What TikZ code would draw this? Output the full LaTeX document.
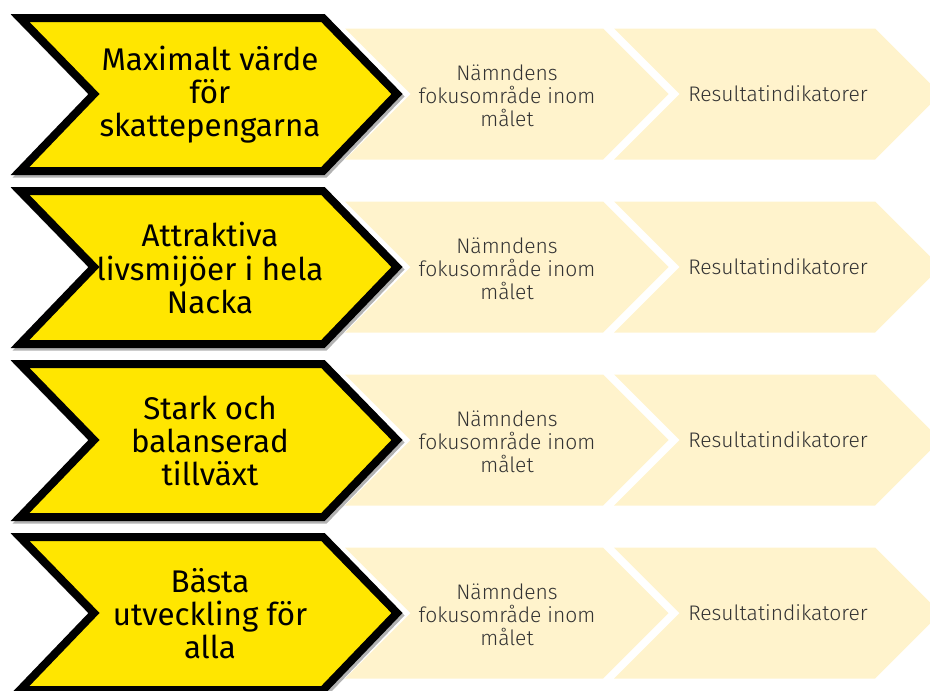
\documentclass[tikz,border=0pt]{standalone}
\usepackage{fontspec}
\setmainfont{Fira Sans}
\newfontfamily\stagefont{Fira Sans Light}
\definecolor{eyyellow}{HTML}{FFE600}
\definecolor{lightfill}{HTML}{FFF3CC}
\definecolor{softtext}{HTML}{333333}
\tikzset{
  goalshape/.style={fill=eyyellow, draw=black, line width=6pt, line join=miter},
  goalshadow/.style={draw=black!30, line width=6pt, line join=miter},
  stageshape/.style={fill=lightfill, draw=none},
  goaltext/.style={align=center, text=black, font=\fontsize{23.5pt}{24.8pt}\selectfont, inner sep=0pt},
  stagetext/.style={align=center, text=softtext, font=\stagefont\fontsize{15.8pt}{17.3pt}\selectfont, inner sep=0pt}
}
\begin{document}
\begin{tikzpicture}[x=0.75pt,y=-0.75pt]
\useasboundingbox (0,0) rectangle (930,690);
\clip (0,0) rectangle (930,690);
\foreach \i/\goal in {0/{Maximalt värde\\för\\skattepengarna},
                      1/{Attraktiva\\livsmijöer i hela\\Nacka},
                      2/{Stark och\\balanserad\\tillväxt},
                      3/{Bästa\\utveckling för\\alla}}{
  \begin{scope}[shift={(0,173*\i)}]
    % light stage chevrons
    \path[stageshape] (345,28.5) -- (603,28.5) -- (668.5,94) -- (603,159.5) -- (345,159.5) -- (410.5,94) -- cycle;
    \path[stageshape] (614,28.5) -- (875,28.5) -- (940.5,94) -- (875,159.5) -- (614,159.5) -- (679.5,94) -- cycle;
    \node[stagetext] (f\i) at (507,96) {Nämndens\\fokusområde inom\\målet};
    \node[stagetext] (r\i) at (778,94) {Resultatindikatorer};
    % goal chevron
    \draw[goalshadow] (22,20.5) -- (325,20.5) -- (399,96.5) -- (325,173.5) -- (22,173.5) -- (96,96.5) -- cycle;
    \draw[goalshape] (20,18) -- (323,18) -- (397,94) -- (323,171) -- (20,171) -- (94,94) -- cycle;
    \node[goaltext] (g\i) at (210,95) {\goal};
  \end{scope}
}
\end{tikzpicture}
\end{document}
